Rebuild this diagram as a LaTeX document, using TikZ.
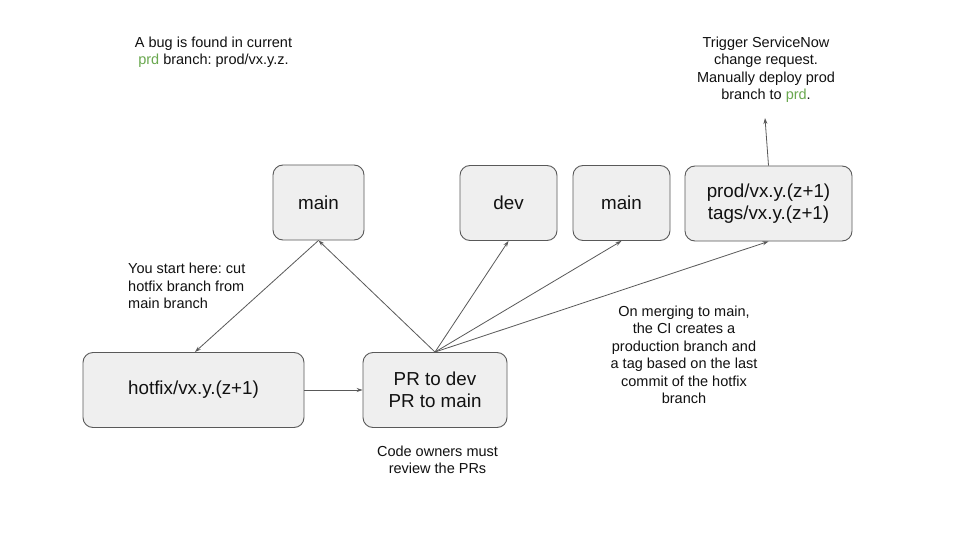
\documentclass[tikz,border=0pt]{standalone}
\usepackage{fontspec}
\setmainfont{Liberation Sans}
\usetikzlibrary{arrows.meta}
\definecolor{boxfill}{HTML}{EFEFEF}
\definecolor{boxline}{HTML}{595959}
\definecolor{prdgreen}{HTML}{6AA84F}
\definecolor{txt}{HTML}{111111}
\tikzset{
  branch/.style={draw=boxline, fill=boxfill, rounded corners=10pt, line width=0.9pt,
    minimum height=75pt, align=center, inner sep=0pt,
    font=\fontsize{18.8}{21.8}\selectfont, text=txt},
  note/.style={align=center, font=\fontsize{14.5}{17.5}\selectfont, text=txt, inner sep=0pt},
  conn/.style={draw=boxline, line width=0.8pt, -{Stealth[length=6pt,width=4pt]}},
}
\begin{document}
\frenchspacing
\begin{tikzpicture}[x=1pt,y=-1pt]
\useasboundingbox[fill=white] (0,0) rectangle (960,540);

\node[branch, minimum width=91pt] (main1) at (318.5,202.5) {main};
\node[branch, minimum width=97pt] (dev) at (508.5,203) {dev};
\node[branch, minimum width=97pt] (main2) at (621.5,203) {main};
\node[branch, minimum width=167pt] (prod) at (768.5,203.5) {prod/vx.y.(z+1)\\tags/vx.y.(z+1)};
\node[branch, minimum width=221pt] (hotfix) at (193.5,390) {hotfix/vx.y.(z+1)};
\node[branch, minimum width=144pt] (pr) at (435,390) {PR to dev\\PR to main};

\coordinate (deploy) at (765,118);

\node[note] (bug) at (213.5,52.5) {A bug is found in current\\\textcolor{prdgreen}{prd} branch: prod/vx.y.z.};
\node[note] (trig) at (766,70) {Trigger ServiceNow\\change request.\\Manually deploy prod\\branch to \textcolor{prdgreen}{prd}.};
\node[note, align=left, anchor=north west] (start) at (128,263) {You start here: cut\\hotfix branch from\\main branch};
\node[note] (ci) at (684,355) {On merging to main,\\the CI creates a\\production branch and\\a tag based on the last\\commit of the hotfix\\branch};
\node[note] (owners) at (437.5,460) {Code owners must\\review the PRs};

\draw[conn] (main1.south) -- (195,352);
\draw[conn] (hotfix.east) -- (pr.west);
\draw[conn] (pr.north) -- (main1.south);
\draw[conn] (pr.north) -- (dev.south);
\draw[conn] (pr.north) -- (main2.south);
\draw[conn] (pr.north) -- (prod.south);
\draw[conn] (prod.north) -- (deploy);
\end{tikzpicture}
\end{document}
